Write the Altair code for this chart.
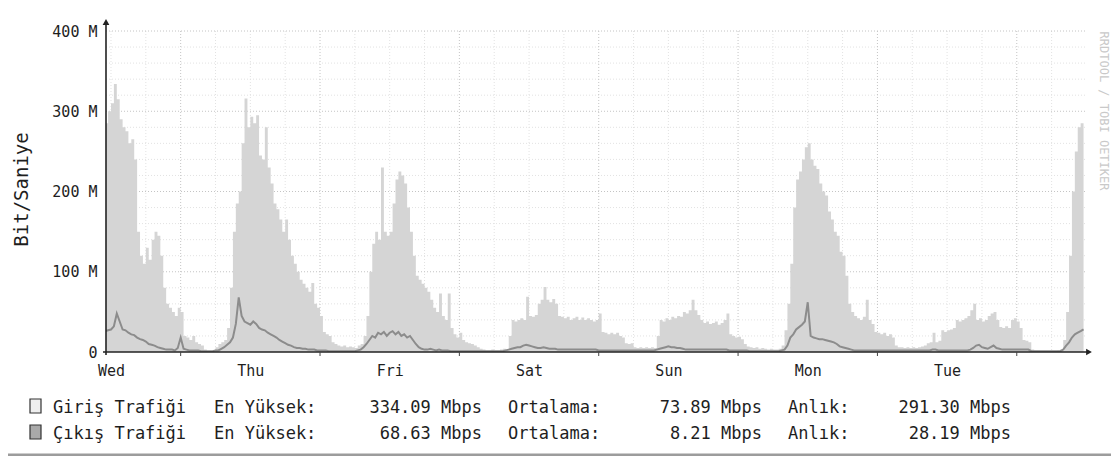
import json
import altair as alt
import pandas as pd

# ---------------- data (Mbit/s) ----------------
DAYS = ["Wed", "Thu", "Fri", "Sat", "Sun", "Mon", "Tue"]
Y_TICKS = [0, 100, 200, 300, 400]
Y_LABELS = ["0", "100 M", "200 M", "300 M", "400 M"]

# half-hour samples; two samples before Wed 00:00, then 48 per day
IN_PRE = [285, 300]
IN_WED = [310, 334, 315, 290, 280, 275, 260, 265, 240, 150,
          120, 110, 130, 115, 140, 150, 145, 120, 80, 60,
          55, 50, 45, 55, 50, 20, 18, 15, 20, 12,
          10, 8, 3, 1, 1, 2, 6, 10, 12, 15,
          30, 80, 150, 185, 200, 260, 316, 280]
IN_THU = [293, 285, 295, 245, 240, 280, 230, 210, 185, 178,
          165, 150, 165, 140, 120, 110, 100, 90, 85, 80,
          75, 86, 60, 55, 45, 25, 22, 20, 12, 10,
          8, 7, 8, 6, 7, 6, 5, 8, 10, 20,
          45, 100, 135, 150, 140, 230, 150, 145]
IN_FRI = [150, 185, 215, 225, 220, 210, 180, 150, 120, 95,
          90, 85, 80, 75, 65, 55, 50, 73, 45, 40,
          73, 30, 22, 18, 24, 15, 12, 11, 10, 8,
          6, 4, 3, 2, 2, 3, 2, 2, 3, 4,
          3, 20, 40, 38, 40, 42, 40, 69]
IN_SAT = [45, 44, 46, 60, 65, 81, 65, 62, 66, 60,
          45, 44, 42, 44, 40, 42, 44, 40, 43, 40,
          42, 40, 38, 40, 48, 25, 24, 22, 24, 22,
          24, 20, 18, 11, 10, 11, 6, 5, 6, 5,
          6, 5, 6, 5, 20, 40, 38, 42]
IN_SUN = [40, 44, 42, 45, 44, 50, 48, 52, 65, 52,
          46, 40, 36, 38, 35, 36, 38, 34, 36, 40,
          48, 22, 20, 18, 19, 16, 10, 7, 6, 5,
          6, 4, 5, 4, 3, 4, 3, 3, 4, 8,
          27, 60, 110, 180, 215, 225, 240, 255]
IN_MON = [260, 240, 232, 228, 210, 200, 195, 175, 165, 150,
          145, 125, 120, 95, 60, 50, 45, 42, 40, 44,
          65, 40, 35, 25, 24, 22, 24, 20, 22, 18,
          8, 6, 6, 5, 6, 5, 6, 5, 6, 7,
          8, 11, 12, 24, 12, 14, 27, 25]
IN_TUE = [27, 28, 30, 40, 38, 40, 42, 45, 52, 60,
          40, 42, 38, 40, 45, 48, 50, 40, 31, 30,
          32, 30, 40, 42, 38, 30, 15, 14, 12, 3,
          2, 2, 1, 1, 1, 1, 1, 1, 2, 3,
          15, 50, 120, 200, 250, 280, 285, 291.3]

OUT_PRE = [26, 27]
OUT_WED = [28, 32, 48, 38, 28, 27, 24, 22, 21, 18,
           16, 15, 13, 10, 9, 8, 6, 5, 4, 3,
           3, 3, 2, 5, 18, 4, 3, 2, 2, 2,
           2, 1, 1, 1, 1, 1, 2, 2, 4, 6,
           9, 12, 18, 35, 68, 45, 38, 36]
OUT_THU = [34, 38, 35, 30, 28, 27, 24, 22, 20, 18,
           15, 13, 11, 9, 8, 6, 5, 5, 4, 4,
           3, 3, 3, 2, 2, 2, 2, 1, 1, 1,
           1, 1, 1, 1, 1, 1, 1, 2, 3, 6,
           10, 15, 20, 18, 24, 22, 25, 20]
OUT_FRI = [24, 26, 22, 25, 20, 22, 18, 20, 15, 10,
           6, 4, 3, 3, 4, 3, 2, 3, 2, 2,
           2, 1, 1, 1, 1, 1, 1, 1, 1, 1,
           1, 1, 1, 1, 1, 1, 1, 1, 1, 1,
           2, 3, 4, 5, 6, 6, 8, 9]
OUT_SAT = [8, 7, 6, 5, 5, 6, 5, 4, 4, 4,
           3, 3, 3, 3, 3, 3, 3, 3, 3, 3,
           3, 3, 3, 3, 2, 2, 2, 2, 2, 2,
           2, 2, 2, 2, 2, 2, 2, 2, 2, 2,
           2, 2, 2, 2, 3, 4, 5, 6]
OUT_SUN = [7, 6, 6, 5, 5, 4, 3, 3, 3, 3,
           3, 3, 3, 3, 3, 3, 3, 3, 3, 3,
           3, 2, 2, 2, 2, 2, 2, 2, 1, 1,
           1, 1, 1, 1, 1, 1, 1, 1, 1, 2,
           3, 8, 18, 22, 28, 31, 34, 38]
OUT_MON = [62, 20, 18, 17, 16, 16, 15, 14, 13, 12,
           10, 7, 6, 5, 4, 3, 2, 2, 2, 2,
           2, 2, 2, 2, 2, 2, 2, 2, 2, 2,
           2, 2, 2, 2, 2, 2, 2, 2, 2, 2,
           2, 2, 2, 3, 3, 2, 2, 2]
OUT_TUE = [2, 2, 2, 2, 2, 2, 2, 2, 3, 5,
           8, 9, 6, 5, 4, 6, 8, 5, 4, 3,
           3, 3, 3, 3, 3, 3, 3, 3, 3, 1,
           1, 1, 1, 1, 1, 1, 1, 1, 1, 1,
           3, 8, 12, 18, 22, 24, 26, 28.19]

SERIES_NAMES = ["Giriş Trafiği", "Çıkış Trafiği"]
MAX_TXT = ["334.09 Mbps", "68.63 Mbps"]
AVG_TXT = ["73.89 Mbps", "8.21 Mbps"]
CUR_TXT = ["291.30 Mbps", "28.19 Mbps"]
WATERMARK = "RRDTOOL / TOBI OETIKER"

# ---------------- build table ----------------
inn = IN_PRE + IN_WED + IN_THU + IN_FRI + IN_SAT + IN_SUN + IN_MON + IN_TUE
out = OUT_PRE + OUT_WED + OUT_THU + OUT_FRI + OUT_SAT + OUT_SUN + OUT_MON + OUT_TUE
t = [-1.0, -0.5] + [i * 0.5 for i in range(len(inn) - 2)]
df = pd.DataFrame({"t": t, "inn": inn, "out": out})

W, H = 979, 321
FONT = "DejaVu Sans Mono"
TXT = "#1e1e1e"
xs = alt.Scale(domain=[-0.86, 167.75], nice=False, zero=False)
ys = alt.Scale(domain=[0, 400], nice=False)

day_expr = json.dumps(DAYS) + "[round(datum.value / 24)]"
ylab_expr = json.dumps(Y_LABELS) + "[round(datum.value / 100)]"

AX_X = alt.Axis(values=[24 * d for d in range(7)], labelExpr=day_expr,
                domain=False, ticks=False, grid=False, labelFlush=False,
                labelOverlap=False, labelFont=FONT, labelFontSize=15,
                labelColor=TXT, labelPadding=11, title=None)
AX_Y = alt.Axis(values=Y_TICKS, labelExpr=ylab_expr, domain=False, ticks=False,
                grid=False, labelFont=FONT, labelFontSize=15, labelColor=TXT,
                labelPadding=9, title="Bit/Saniye", titleFont=FONT, titleFontSize=19,
                titleFontWeight="normal", titleColor=TXT, titleX=-85, titleY=158,
                titleBaseline="middle")


def X(field):
    return alt.X(field, type="quantitative", scale=xs, axis=AX_X, title=None)


def Y(field):
    return alt.Y(field, type="quantitative", scale=ys, axis=AX_Y, title="Bit/Saniye")


# grid
y_major = pd.DataFrame({"v": Y_TICKS[1:]})
y_minor = pd.DataFrame({"v": [v for v in range(20, 400, 20) if v % 100]})
x_major = pd.DataFrame({"v": [12 + 24 * d for d in range(7)]})
x_minor = pd.DataFrame({"v": [h for h in range(0, 168, 6) if h % 24 != 12]})

g_ymin = alt.Chart(y_minor).mark_rule(color="#e2e2e2", strokeDash=[1, 2], strokeWidth=1).encode(y=Y("v"))
g_ymaj = alt.Chart(y_major).mark_rule(color="#c4c4c4", strokeDash=[1, 2], strokeWidth=1).encode(y=Y("v"))
g_xmin = alt.Chart(x_minor).mark_rule(color="#e2e2e2", strokeDash=[1, 2], strokeWidth=1).encode(x=X("v"))
g_xmaj = alt.Chart(x_major).mark_rule(color="#c4c4c4", strokeDash=[1, 2], strokeWidth=1).encode(x=X("v"))

area = alt.Chart(df).mark_area(interpolate="step-after", color="#d5d5d5", clip=True).encode(
    x=X("t"), y=Y("inn"))
line = alt.Chart(df).mark_line(interpolate="linear", color="#8c8c8c", strokeWidth=2, clip=True).encode(
    x=X("t"), y=Y("out"))

one = alt.Data(values=[{}])
ax_x = alt.Chart(one).mark_rule(color="#222", strokeWidth=1.6).encode(
    x=alt.value(-3), x2=alt.value(982), y=alt.value(H))
ax_y = alt.Chart(one).mark_rule(color="#222", strokeWidth=1.6).encode(
    x=alt.value(0), y=alt.value(H + 3), y2=alt.value(-8))
arr_y = alt.Chart(one).mark_point(shape="triangle-up", filled=True, color="#222", size=45, opacity=1).encode(
    x=alt.value(0), y=alt.value(-9))
arr_x = alt.Chart(one).mark_point(shape="triangle-right", filled=True, color="#222", size=45, opacity=1).encode(
    x=alt.value(983), y=alt.value(H))
noon_ticks = alt.Chart(x_major).mark_rule(color="#444", strokeWidth=1).encode(
    x=X("v"), y=alt.value(H), y2=alt.value(H + 4))

layers = [g_ymin, g_xmin, g_ymaj, g_xmaj, area, line, ax_x, ax_y, arr_y, arr_x, noon_ticks]

# legend block
ROW_Y = [382, 408]
BOX_FILL = ["#eeeeee", "#a9a9a9"]
for i in range(2):
    by = ROW_Y[i]
    layers.append(alt.Chart(one).mark_rect(fill=BOX_FILL[i], stroke="#333", strokeWidth=1.2).encode(
        x=alt.value(-76), x2=alt.value(-65), y=alt.value(by - 14), y2=alt.value(by)))
    items = [(SERIES_NAMES[i], -53, "left"), ("En Yüksek:", 108, "left"),
             (MAX_TXT[i], 376, "right"), ("Ortalama:", 402, "left"),
             (AVG_TXT[i], 656, "right"), ("Anlık:", 682, "left"),
             (CUR_TXT[i], 905, "right")]
    for txt, px, al in items:
        layers.append(alt.Chart(one).mark_text(
            text=txt, align=al, baseline="alphabetic", font=FONT, fontSize=17, color=TXT
        ).encode(x=alt.value(px), y=alt.value(by)))

layers.append(alt.Chart(one).mark_text(
    text=WATERMARK, angle=90, align="center", baseline="middle", font=FONT, fontSize=12,
    color="#c9c9c9").encode(x=alt.value(998), y=alt.value(80)))
layers.append(alt.Chart(one).mark_rule(color="#9c9c9c", strokeWidth=3).encode(
    x=alt.value(-98), x2=alt.value(1005), y=alt.value(424)))

chart = alt.layer(*layers).properties(
    width=W, height=H, autosize="none",
    padding={"left": 98, "top": 23, "right": 26, "bottom": 104},
    background="#ffffff",
).configure_view(stroke=None)

chart.save("out.html", embed_options={"renderer": "svg", "actions": False})
